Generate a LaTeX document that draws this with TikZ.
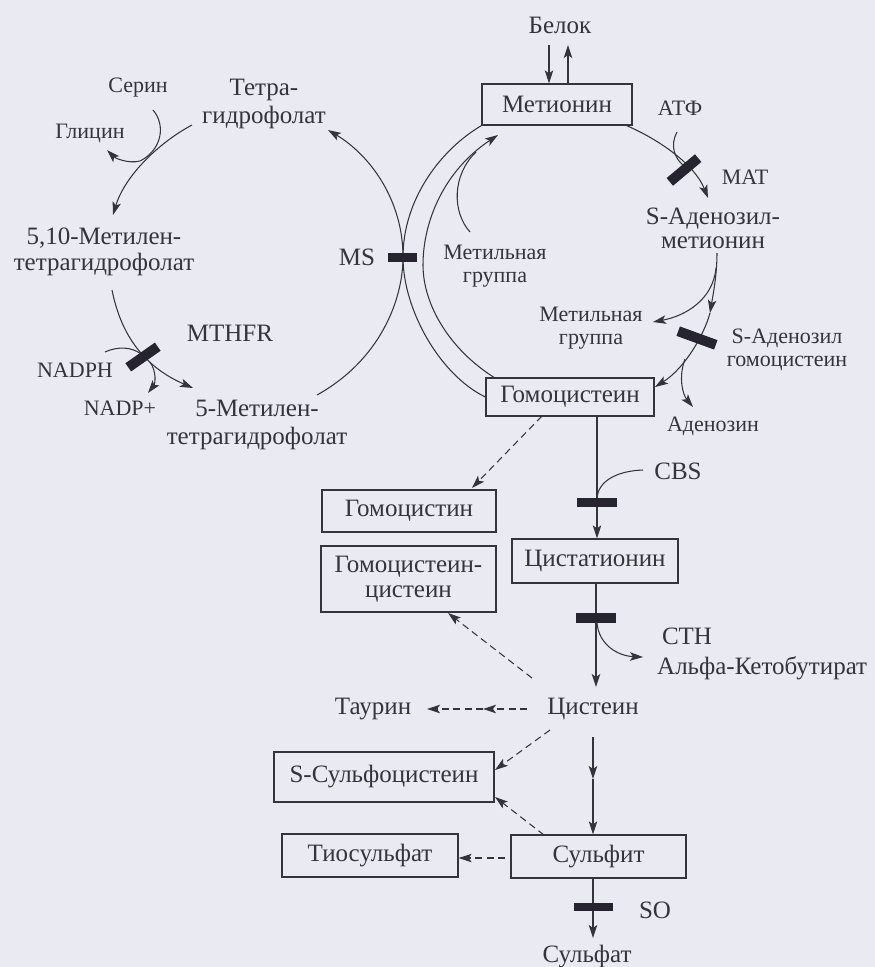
\documentclass[tikz,border=0pt]{standalone}
\usepackage{fontspec}
\setmainfont{Liberation Serif}
\usetikzlibrary{arrows.meta,calc}
\definecolor{bgc}{RGB}{233,234,242}
\definecolor{ink}{RGB}{52,52,60}
\definecolor{barc}{RGB}{38,36,46}
\begin{document}
\begin{tikzpicture}[x=1pt,y=-1pt,
  every node/.style={text=ink, inner sep=0pt},
  big/.style={font=\fontsize{25}{28}\selectfont},
  small/.style={font=\fontsize{22}{23}\selectfont},
  box/.style={draw=ink, line width=1.3pt, big},
  ln/.style={draw=ink, line width=1.05pt},
  arr/.style={ln, -{Stealth[length=13pt,width=8.5pt,inset=3pt]}},
  dsh/.style={arr, dash pattern=on 7pt off 4.5pt},
  enzbar/.style={fill=barc, draw=none, inner sep=0pt}]
\fill[bgc] (0,0) rectangle (875,967);
\useasboundingbox (0,0) rectangle (875,967);

% ---------- nodes ----------
\node[big] (belok) at (560,25) {Белок};
\node[box, minimum width=150pt, minimum height=41pt] (met) at (557,104.5) {Метионин};
\node[small] (atf) at (680,108) {АТФ};
\node[small] (mat) at (745,177) {MAT};
\node[big, align=center, font=\fontsize{25}{24}\selectfont] (sam) at (713,228) {S-Аденозил-\\метионин};
\node[small, align=center] (methL) at (495,266) {Метильная\\группа};
\node[small, align=center] (methR) at (591,328) {Метильная\\группа};
\node[small, align=center] (sah) at (787,350) {S-Аденозил\\гомоцистеин};
\node[box, minimum width=168pt, minimum height=38pt] (hcy) at (570,397) {Гомоцистеин};
\node[small] (ado) at (713,426) {Аденозин};
\node[big] (cbs) at (678,471) {CBS};
\node[box, minimum width=174pt, minimum height=42pt] (hcystin) at (409,511) {Гомоцистин};
\node[box, minimum width=175pt, minimum height=66pt, align=center, font=\fontsize{25}{25}\selectfont] (hcycys) at (408.5,579) {Гомоцистеин-\\цистеин};
\node[box, minimum width=166pt, minimum height=44pt] (cysta) at (595,561) {Цистатионин};
\node[big] (cth) at (687,636) {CTH};
\node[big, anchor=west] (akb) at (657,668) {Альфа-Кетобутират};
\node[big] (cys) at (593,709) {Цистеин};
\node[big] (taur) at (373,709) {Таурин};
\node[box, minimum width=220pt, minimum height=50pt] (ssc) at (384,777) {S-Сульфоцистеин};
\node[box, minimum width=176pt, minimum height=43pt] (thio) at (370,855.5) {Тиосульфат};
\node[box, minimum width=175pt, minimum height=43pt] (sulfit) at (598.5,856.5) {Сульфит};
\node[big] (so) at (655,910) {SO};
\node[big] (sulfat) at (587,957) {Сульфат};
\node[small] (ser) at (138,88) {Серин};
\node[big, align=center] (thf) at (264,104) {Тетра-\\гидрофолат};
\node[small] (gly) at (90,133) {Глицин};
\node[big, align=center, font=\fontsize{25}{26}\selectfont] (mthf10) at (104,252) {5,10-Метилен-\\тетрагидрофолат};
\node[big] (mthfr) at (230,333) {MTHFR};
\node[small] (nadph) at (75,370) {NADPH};
\node[small] (nadp) at (120,408) {NADP+};
\node[big, align=center] (mthf5) at (257,425) {5-Метилен-\\тетрагидрофолат};
\node[big] (ms) at (357,257) {MS};

% ---------- coordinates ----------
\coordinate (bkDn) at (549,45);
\coordinate (bkUp) at (568,45);
\coordinate (samIn) at (708,198);
\coordinate (atfA) at (677,132);
\coordinate (atfB) at (684,166);
\coordinate (samOut) at (717,253);
\coordinate (samMid) at (710,313);
\coordinate (hcyIn) at (655,387);
\coordinate (samBr) at (716,268);
\coordinate (methRIn) at (653,322);
\coordinate (adoBr) at (685,359);
\coordinate (adoIn) at (693,407);
\coordinate (msX) at (403,257);
\coordinate (mthf5Out) at (317,395);
\coordinate (thfIn) at (328,130);
\coordinate (hcyOut) at (495,378);
\coordinate (innerX) at (423,265);
\coordinate (metIn) at (498,135);
\coordinate (methLOut) at (470,232);
\coordinate (methLJoin) at (476,152);
\coordinate (hcyDn) at (597,416);
\coordinate (cbsA) at (643,470);
\coordinate (cbsB) at (597,497);
\coordinate (hcyD) at (542,416);
\coordinate (hcystinIn) at (472,488);
\coordinate (cystaDn) at (596,583);
\coordinate (cysIn) at (596,687);
\coordinate (cthA) at (597,623);
\coordinate (akbIn) at (643,657);
\coordinate (cysUL) at (532,678);
\coordinate (hcycysIn) at (448,613);
\coordinate (cysW) at (527,709);
\coordinate (taurMid) at (483,709);
\coordinate (taurIn) at (427,709);
\coordinate (cysDL) at (550,730);
\coordinate (sscIn) at (495,770);
\coordinate (cysDn) at (593,737);
\coordinate (sulMid) at (593,779);
\coordinate (sulUL) at (544,835);
\coordinate (sscIn2) at (495,797);
\coordinate (sulW) at (505,858);
\coordinate (sulDn) at (593,878);
\coordinate (sulfatIn) at (593,938);
\coordinate (thfOut) at (192,125);
\coordinate (mthf10In) at (113,215);
\coordinate (serA) at (153,110);
\coordinate (serB) at (140,161);
\coordinate (glyIn) at (107,150);
\coordinate (m10Out) at (112,290);
\coordinate (m5In) at (193,388);
\coordinate (nadA) at (105,352);
\coordinate (nadB) at (141,354);
\coordinate (nadpA) at (150,362);
\coordinate (nadpIn) at (148,393);

% ---------- connectors ----------
\draw[arr] (bkDn) -- (bkDn |- met.north);
\draw[arr] (bkUp |- met.north) -- (bkUp);
\draw[arr] ([xshift=-6pt]met.south east) .. controls (660,140) and (695,165) .. (samIn);
\draw[ln] (atfA) .. controls (670,145) and (674,158) .. (atfB);
\draw[arr] (samOut) .. controls (717,275) and (713,295) .. (samMid);
\draw[arr] (samMid) .. controls (704,335) and (685,368) .. (hcyIn);
\draw[arr] (samBr) .. controls (713,300) and (685,316) .. (methRIn);
\draw[arr] (adoBr) .. controls (678,378) and (683,395) .. (adoIn);
% MS crossing
\draw[ln] (met.south west) .. controls (440,150) and (403,200) .. (msX)
          .. controls (403,310) and (440,375) .. (hcy.west);
\draw[arr] (mthf5Out) .. controls (380,360) and (403,300) .. (msX)
          .. controls (403,200) and (370,155) .. (thfIn);
\draw[arr] (hcyOut) .. controls (450,350) and (423,305) .. (innerX)
          .. controls (423,220) and (445,170) .. (metIn);
\draw[ln] (methLOut) .. controls (452,212) and (452,175) .. (methLJoin);
% transsulfuration
\draw[arr] (hcyDn) -- (hcyDn |- cysta.north);
\draw[ln] (cbsA) .. controls (615,471) and (599,482) .. (cbsB);
\draw[dsh] (hcyD) -- (hcystinIn);
\draw[arr] (cystaDn) -- (cysIn);
\draw[arr] (cthA) .. controls (599,645) and (618,656) .. (akbIn);
\draw[dsh] (cysUL) -- (hcycysIn);
\draw[dsh] (cysW) -- (taurMid);
\draw[dsh] (taurMid) -- (taurIn);
\draw[dsh] (cysDL) -- (sscIn);
\draw[arr] (cysDn) -- (sulMid);
\draw[arr] (sulMid) -- (sulMid |- sulfit.north);
\draw[dsh] (sulUL) -- (sscIn2);
\draw[dsh] (sulW) -- (sulW -| thio.east);
\draw[arr] (sulDn) -- (sulfatIn);
% folate cycle
\draw[arr] (thfOut) .. controls (160,142) and (125,175) .. (mthf10In);
\draw[arr] (serA) .. controls (166,125) and (162,150) .. (serB)
          .. controls (128,164) and (115,158) .. (glyIn);
\draw[arr] (m10Out) .. controls (120,330) and (140,365) .. (m5In);
\draw[ln] (nadA) .. controls (118,346) and (132,347) .. (nadB);
\draw[arr] (nadpA) .. controls (157,372) and (155,384) .. (nadpIn);

% ---------- enzyme bars ----------
\node[enzbar, minimum width=29pt, minimum height=9pt] (msbar) at (402,257) {};
\node[enzbar, minimum width=37pt, minimum height=10pt, rotate=40] (matbar) at (684,170) {};
\node[enzbar, minimum width=40pt, minimum height=10pt, rotate=-20] (sahbar) at (697,338) {};
\node[enzbar, minimum width=40pt, minimum height=9pt] (cbsbar) at (597,502) {};
\node[enzbar, minimum width=40pt, minimum height=10pt] (cthbar) at (596,618) {};
\node[enzbar, minimum width=39pt, minimum height=8pt] (sobar) at (593,907) {};
\node[enzbar, minimum width=36pt, minimum height=10pt, rotate=35] (mthfrbar) at (143,357) {};
\end{tikzpicture}
\end{document}
